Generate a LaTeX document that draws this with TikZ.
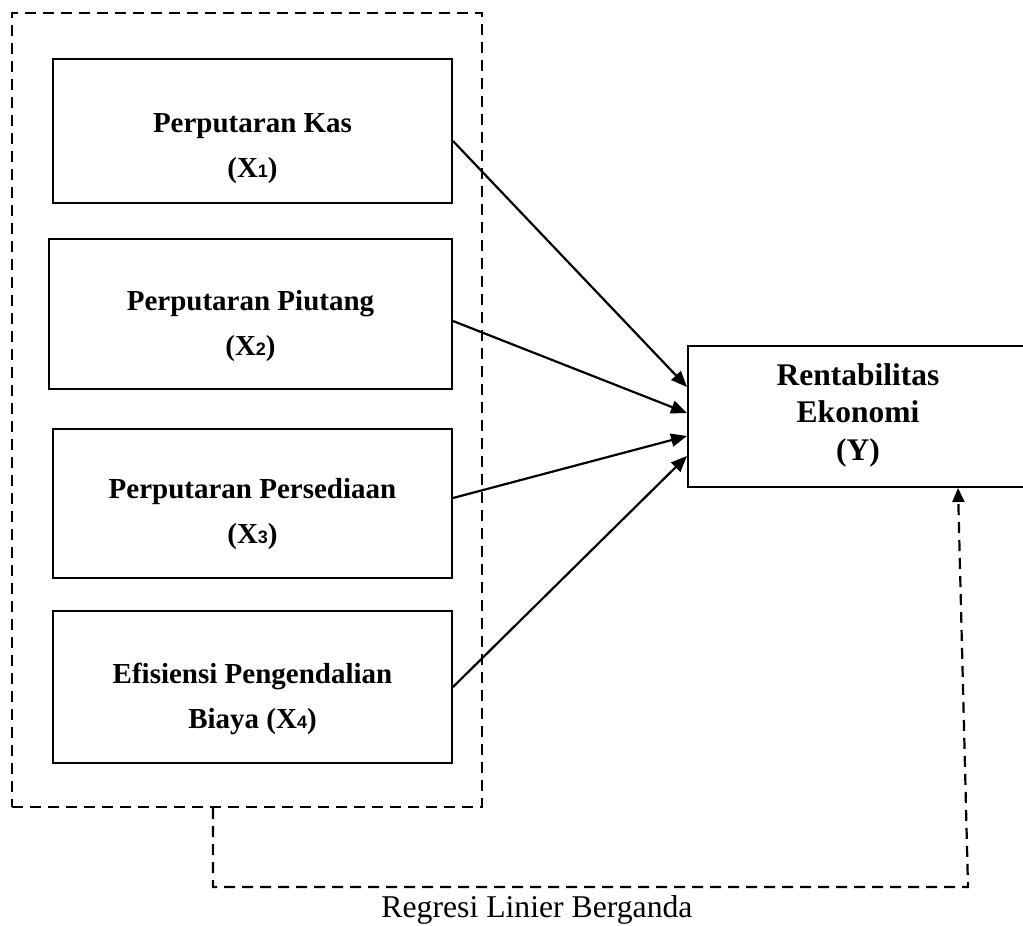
\documentclass[tikz,border=0pt]{standalone}
\usepackage{fontspec}
\setmainfont{Liberation Serif}
\setsansfont{Liberation Sans}
\usetikzlibrary{arrows.meta}
\newcommand{\subdig}[1]{{\sffamily\bfseries\fontsize{18}{18}\selectfont #1}}
\begin{document}
\begin{tikzpicture}[x=1pt,y=-1pt,
  varbox/.style={draw, line width=2pt, rectangle, inner sep=0pt},
  grpbox/.style={draw, line width=2.2pt, dash pattern=on 11pt off 7pt, rectangle, inner sep=0pt},
  boxtext/.style={anchor=base, inner sep=0pt, font=\bfseries\fontsize{29}{45}\selectfont},
  ytext/.style={anchor=base, inner sep=0pt, font=\bfseries\fontsize{31.5}{37.5}\selectfont},
  arr/.style={line width=2.2pt, -{Triangle[length=16pt,width=13pt]}},
  darr/.style={line width=2.2pt, dash pattern=on 11pt off 7pt, -{Triangle[length=14pt,width=12pt]}}]
\useasboundingbox[fill=white] (0,0) rectangle (1023,926);
% group box
\node[grpbox, minimum width=470pt, minimum height=794pt] (grp) at (247,410) {};
% variable boxes
\node[varbox, minimum width=399pt, minimum height=144pt] (b1) at (252.5,131) {};
\node[boxtext] (t1) at (252.5,132) {\begin{tabular}[t]{@{}c@{}}Perputaran Kas\\(X\subdig{1})\end{tabular}};
\node[varbox, minimum width=403pt, minimum height=150pt] (b2) at (250.5,314) {};
\node[boxtext] (t2) at (250.5,310) {\begin{tabular}[t]{@{}c@{}}Perputaran Piutang\\(X\subdig{2})\end{tabular}};
\node[varbox, minimum width=399pt, minimum height=149pt] (b3) at (252.5,503.5) {};
\node[boxtext] (t3) at (252.5,498) {\begin{tabular}[t]{@{}c@{}}Perputaran Persediaan\\(X\subdig{3})\end{tabular}};
\node[varbox, minimum width=399pt, minimum height=152pt] (b4) at (252.5,687) {};
\node[boxtext] (t4) at (252.5,683) {\begin{tabular}[t]{@{}c@{}}Efisiensi Pengendalian\\Biaya (X\subdig{4})\end{tabular}};
% dependent box
\node[varbox, minimum width=340pt, minimum height=141pt] (Y) at (858,416.5) {};
\node[ytext] (ty) at (858,385) {\begin{tabular}[t]{@{}c@{}}Rentabilitas\\Ekonomi\\(Y)\end{tabular}};
% arrows
\draw[arr] ([yshift=-10pt]b1.east) -- ([yshift=29.5pt]Y.west);
\draw[arr] ([yshift=-7pt]b2.east) -- ([yshift=3.5pt]Y.west);
\draw[arr] ([yshift=5.5pt]b3.east) -- ([yshift=-19.5pt]Y.west);
\draw[arr] (b4.east) -- ([yshift=-39.5pt]Y.west);
% regression connector
\coordinate (c1) at (213,887);
\coordinate (c2) at (968,887);
\draw[darr] ([xshift=-34pt]grp.south) -- (c1) -- (c2) -- ([xshift=100pt]Y.south);
\node[anchor=base, inner sep=0pt, font=\fontsize{31.7}{38}\selectfont] (lbl) at (537,917) {Regresi Linier Berganda};
\end{tikzpicture}
\end{document}
